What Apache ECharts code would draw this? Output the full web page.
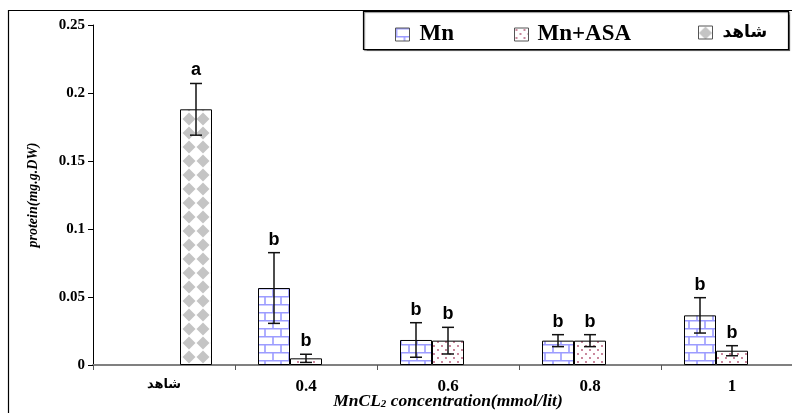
<!DOCTYPE html>
<html>
<head>
<meta charset="utf-8">
<script src="https://cdn.jsdelivr.net/npm/echarts@6/dist/echarts.min.js"></script>
<style>
html,body{margin:0;padding:0;background:#fff;}
#chart{width:792px;height:413px;}
</style>
</head>
<body>
<div id="chart"></div>
<script>
// ---- data ----
const categories = ['شاهد', '0.4', '0.6', '0.8', '1'];
const seriesNames = ['Mn', 'Mn+ASA', 'شاهد'];
const mnValues = [null, 0.0566, 0.0184, 0.0179, 0.0365];
const mnErrors = [null, 0.026, 0.0127, 0.0044, 0.013];
const mnLetters = ['', 'b', 'b', 'b', 'b'];
const asaValues = [null, 0.0049, 0.0179, 0.0179, 0.0105];
const asaErrors = [null, 0.003, 0.0098, 0.0044, 0.0037];
const asaLetters = ['', 'b', 'b', 'b', 'b'];
const controlValues = [0.188, null, null, null, null];
const controlErrors = [0.019, null, null, null, null];
const controlLetters = ['a', '', '', '', ''];
const yMin = 0, yMax = 0.25, yInterval = 0.05;

// ---- patterns ----
function makeCanvas(w, h) {
  const c = document.createElement('canvas');
  c.width = w; c.height = h;
  return c;
}
function brickPattern() {
  const c = makeCanvas(16, 16), g = c.getContext('2d');
  g.fillStyle = '#fff'; g.fillRect(0, 0, 16, 16);
  g.strokeStyle = '#9c9cff'; g.lineWidth = 1.6;
  g.beginPath();
  g.moveTo(0, 0.8); g.lineTo(16, 0.8);
  g.moveTo(0, 8.8); g.lineTo(16, 8.8);
  g.moveTo(1, 0); g.lineTo(1, 8.8);
  g.moveTo(9, 8.8); g.lineTo(9, 16);
  g.stroke();
  return c;
}
function dotPattern() {
  const c = makeCanvas(8, 8), g = c.getContext('2d');
  g.fillStyle = '#fff'; g.fillRect(0, 0, 8, 8);
  g.fillStyle = '#b0506f';
  g.beginPath(); g.arc(2, 2, 0.9, 0, Math.PI * 2); g.fill();
  g.beginPath(); g.arc(6, 6, 0.9, 0, Math.PI * 2); g.fill();
  return c;
}
function diamondPattern() {
  const c = makeCanvas(14, 14), g = c.getContext('2d');
  g.fillStyle = '#fff'; g.fillRect(0, 0, 14, 14);
  g.fillStyle = '#c4c4c4';
  g.beginPath();
  g.moveTo(7, 0.5); g.lineTo(13.5, 7); g.lineTo(7, 13.5); g.lineTo(0.5, 7);
  g.closePath(); g.fill();
  return c;
}
const patterns = [
  { image: brickPattern(), repeat: 'repeat' },
  { image: dotPattern(), repeat: 'repeat' },
  { image: diamondPattern(), repeat: 'repeat' }
];

const BAR_W = 32;
const serif = '"Liberation Serif", "Times New Roman", serif';
const sans = '"Liberation Sans", Arial, sans-serif';
const arabic = '"DejaVu Sans", "Noto Sans", sans-serif';

function errSeries(slot, values, errors, letters) {
  const idx = [];
  const data = [];
  values.forEach((v, i) => {
    if (v != null) { idx.push(i); data.push([i, v, errors[i]]); }
  });
  return {
    type: 'custom',
    silent: true,
    z: 5,
    data: data,
    encode: { x: 0, y: 1 },
    renderItem: function (params, api) {
      const ci = api.value(0), v = api.value(1), e = api.value(2);
      const top = api.coord([ci, v + e]);
      const bot = api.coord([ci, v - e]);
      const cx = top[0] + (slot - 1) * BAR_W;
      const cap = 6;
      const st = { stroke: '#111', lineWidth: 1.5 };
      return {
        type: 'group',
        children: [
          { type: 'line', shape: { x1: cx, y1: top[1], x2: cx, y2: bot[1] }, style: st },
          { type: 'line', shape: { x1: cx - cap, y1: top[1], x2: cx + cap, y2: top[1] }, style: st },
          { type: 'line', shape: { x1: cx - cap, y1: bot[1], x2: cx + cap, y2: bot[1] }, style: st },
          { type: 'text', x: cx, y: top[1] - 13, style: {
              text: letters[idx[params.dataIndex]], fill: '#000',
              font: 'bold 18px ' + sans, align: 'center', verticalAlign: 'middle' } }
        ]
      };
    }
  };
}

function barSeries(name, values, pattern) {
  return {
    name: name,
    type: 'bar',
    data: values,
    barWidth: BAR_W,
    barGap: 0,
    itemStyle: { color: pattern, borderColor: '#000', borderWidth: 1 },
    emphasis: { disabled: true }
  };
}

const chart = echarts.init(document.getElementById('chart'), null, { renderer: 'canvas' });
const legendCommon = {
  orient: 'horizontal', itemWidth: 14, itemHeight: 13, itemGap: 10,
  selectedMode: false, icon: 'rect',
  itemStyle: { borderColor: '#555', borderWidth: 1 }
};
const legendText = { fontFamily: serif, fontWeight: 'bold', fontSize: 23, color: '#000' };
chart.setOption({
  animation: false,
  backgroundColor: '#fff',
  graphic: [
    { type: 'rect', shape: { x: 8.5, y: 10.5, width: 820, height: 420 },
      style: { fill: 'none', stroke: '#000', lineWidth: 1.2 }, z: 0 },
    { type: 'rect', shape: { x: 363.5, y: 11.5, width: 425, height: 38 },
      style: { fill: '#fff', stroke: '#000', lineWidth: 1.2,
               shadowColor: 'rgba(0,0,0,0.45)', shadowOffsetX: 1, shadowOffsetY: 1, shadowBlur: 1 }, z: 0 }
  ],
  legend: [
    Object.assign({}, legendCommon, { data: [seriesNames[0]], left: 390, top: 18,
      textStyle: Object.assign({ padding: [0, 0, 0, 5] }, legendText) }),
    Object.assign({}, legendCommon, { data: [seriesNames[1]], left: 509, top: 18,
      textStyle: Object.assign({ padding: [0, 0, 0, 4] }, legendText) }),
    Object.assign({}, legendCommon, { data: [seriesNames[2]], left: 693, top: 19,
      textStyle: { fontFamily: arabic, fontWeight: 'bold', fontSize: 17, color: '#000', padding: [0, 0, 0, 5] } })
  ],
  grid: { left: 93, top: 25, width: 710, height: 340, containLabel: false, outerBoundsMode: 'none' },
  xAxis: {
    type: 'category',
    data: categories,
    axisLine: { lineStyle: { color: '#808080', width: 2 } },
    axisTick: { show: true, length: 5, lineStyle: { color: '#555', width: 1 } },
    axisLabel: {
      margin: 13,
      formatter: function (v) { return v === 'شاهد' ? '{ar|' + v + '}' : '{num|' + v + '}'; },
      rich: {
        num: { fontFamily: serif, fontWeight: 'bold', fontSize: 17, color: '#000' },
        ar: { fontFamily: arabic, fontWeight: 'bold', fontSize: 13, color: '#000' }
      }
    },
    name: '{t|MnCL}{s|2}{t| concentration(mmol/lit)}',
    nameLocation: 'middle',
    nameGap: 27,
    nameMoveOverlap: false,
    nameTextStyle: {
      rich: {
        t: { fontFamily: serif, fontStyle: 'italic', fontWeight: 'bold', fontSize: 17.5, color: '#000' },
        s: { fontFamily: serif, fontStyle: 'italic', fontWeight: 'bold', fontSize: 11, color: '#000', verticalAlign: 'bottom', padding: [7, 0, 0, 0] }
      }
    }
  },
  yAxis: {
    type: 'value',
    min: yMin, max: yMax, interval: yInterval,
    splitLine: { show: false },
    axisLine: { show: true, lineStyle: { color: '#000', width: 1 } },
    axisTick: { show: true, length: 5, lineStyle: { color: '#000' } },
    axisLabel: { margin: 8, fontFamily: serif, fontWeight: 'bold', fontSize: 15, color: '#000' },
    name: 'protein(mg.g.DW)',
    nameLocation: 'middle',
    nameGap: 53,
    nameMoveOverlap: false,
    nameTextStyle: { fontFamily: serif, fontStyle: 'italic', fontWeight: 'bold', fontSize: 14, color: '#000' }
  },
  series: [
    barSeries(seriesNames[0], mnValues, patterns[0]),
    barSeries(seriesNames[1], asaValues, patterns[1]),
    barSeries(seriesNames[2], controlValues, patterns[2]),
    errSeries(0, mnValues, mnErrors, mnLetters),
    errSeries(1, asaValues, asaErrors, asaLetters),
    errSeries(2, controlValues, controlErrors, controlLetters)
  ]
});
</script>
</body>
</html>
